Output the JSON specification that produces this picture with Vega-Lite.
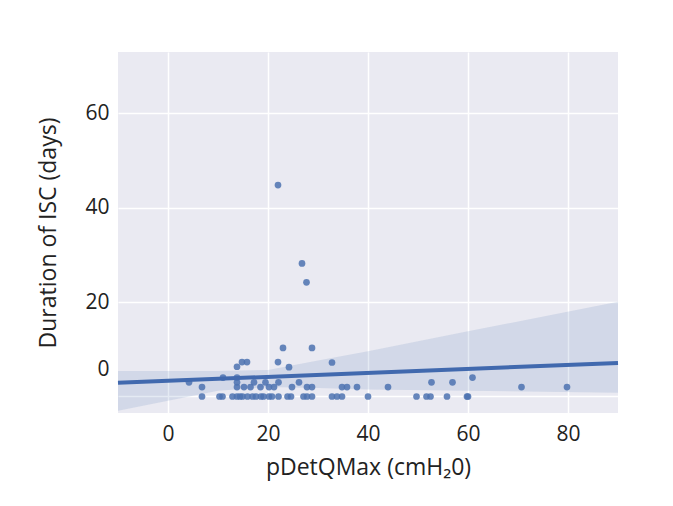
{
  "$schema": "https://vega.github.io/schema/vega-lite/v6.json",
  "width": 500,
  "height": 361,
  "padding": {"left": 37, "top": 52, "right": 50, "bottom": 20},
  "background": "white",
  "config": {
    "view": {"fill": "#EAEAF2", "stroke": null},
    "axis": {
      "domain": false,
      "ticks": false,
      "grid": true,
      "gridColor": "white",
      "gridWidth": 1.5,
      "labelFont": "Open Sans",
      "labelFontSize": 21,
      "labelColor": "#222",
      "titleFont": "Open Sans",
      "titleFontSize": 23,
      "titleFontWeight": "normal",
      "titleColor": "#222"
    }
  },
  "datasets": {
    "points": [
      {"p": 6.8, "d": 0}, {"p": 10.3, "d": 0}, {"p": 10.9, "d": 0}, {"p": 12.9, "d": 0}, {"p": 13.8, "d": 0},
      {"p": 14.4, "d": 0}, {"p": 14.9, "d": 0}, {"p": 15.9, "d": 0}, {"p": 16.9, "d": 0}, {"p": 17.6, "d": 0},
      {"p": 18.6, "d": 0}, {"p": 19.1, "d": 0}, {"p": 20.2, "d": 0}, {"p": 20.8, "d": 0}, {"p": 22.1, "d": 0},
      {"p": 23.9, "d": 0}, {"p": 24.6, "d": 0}, {"p": 27.1, "d": 0}, {"p": 27.8, "d": 0}, {"p": 28.8, "d": 0},
      {"p": 32.8, "d": 0}, {"p": 33.8, "d": 0}, {"p": 34.8, "d": 0}, {"p": 40.0, "d": 0}, {"p": 49.7, "d": 0},
      {"p": 51.7, "d": 0}, {"p": 52.5, "d": 0}, {"p": 55.8, "d": 0}, {"p": 59.8, "d": 0}, {"p": 60.0, "d": 0},
      {"p": 6.8, "d": 2}, {"p": 13.8, "d": 2}, {"p": 15.2, "d": 2}, {"p": 16.5, "d": 2}, {"p": 18.5, "d": 2},
      {"p": 20.2, "d": 2}, {"p": 21.2, "d": 2}, {"p": 24.8, "d": 2}, {"p": 27.8, "d": 2}, {"p": 28.8, "d": 2},
      {"p": 34.8, "d": 2}, {"p": 35.8, "d": 2}, {"p": 37.8, "d": 2}, {"p": 44.0, "d": 2}, {"p": 70.7, "d": 2},
      {"p": 79.8, "d": 2},
      {"p": 4.2, "d": 3}, {"p": 13.8, "d": 3}, {"p": 17.2, "d": 3}, {"p": 19.5, "d": 3}, {"p": 22.1, "d": 3},
      {"p": 26.2, "d": 3}, {"p": 52.7, "d": 3}, {"p": 56.9, "d": 3},
      {"p": 11.0, "d": 4}, {"p": 13.8, "d": 4}, {"p": 60.9, "d": 4},
      {"p": 13.8, "d": 6.3}, {"p": 24.2, "d": 6.2},
      {"p": 14.8, "d": 7.3}, {"p": 15.8, "d": 7.3}, {"p": 22.0, "d": 7.3}, {"p": 32.8, "d": 7.2},
      {"p": 23.0, "d": 10.3}, {"p": 28.8, "d": 10.3},
      {"p": 27.7, "d": 24.2}, {"p": 26.8, "d": 28.2}, {"p": 22.0, "d": 44.8}
    ],
    "fit": [
      {"p": -10, "d": 2.9},
      {"p": 90, "d": 7.1}
    ],
    "band": [
      {"p": -10, "lo": -3.0, "hi": 5.4},
      {"p": 0, "lo": -0.9, "hi": 5.4},
      {"p": 10, "lo": 1.2, "hi": 5.4},
      {"p": 20, "lo": 2.0, "hi": 5.6},
      {"p": 30, "lo": 1.8, "hi": 7.6},
      {"p": 40, "lo": 1.5, "hi": 9.6},
      {"p": 60, "lo": 1.2, "hi": 13.8},
      {"p": 90, "lo": 0.8, "hi": 20.1}
    ]
  },
  "encoding": {
    "x": {
      "type": "quantitative",
      "scale": {"domain": [-10, 90], "nice": false, "zero": false},
      "axis": {"values": [0, 20, 40, 60, 80], "title": "pDetQMax (cmH₂0)", "labelPadding": 10, "titlePadding": 12}
    },
    "y": {
      "type": "quantitative",
      "scale": {"domain": [-3.5, 73], "nice": false, "zero": false},
      "axis": {
        "values": [0, 20, 40, 60],
        "title": "Duration of ISC (days)",
        "labelPadding": 9,
        "titlePadding": 24,
        "labelOffset": {"condition": {"test": "datum.value === 0", "value": -27}, "value": 0}
      }
    }
  },
  "layer": [
    {
      "data": {"name": "band"},
      "mark": {"type": "area", "color": "#4C72B0", "opacity": 0.15},
      "encoding": {
        "x": {"field": "p", "type": "quantitative"},
        "y": {"field": "lo", "type": "quantitative"},
        "y2": {"field": "hi"}
      }
    },
    {
      "data": {"name": "points"},
      "mark": {"type": "circle", "color": "#4C72B0", "opacity": 0.85, "size": 45},
      "encoding": {
        "x": {"field": "p", "type": "quantitative"},
        "y": {"field": "d", "type": "quantitative"}
      }
    },
    {
      "data": {"name": "fit"},
      "mark": {"type": "line", "color": "#4169AE", "strokeWidth": 4},
      "encoding": {
        "x": {"field": "p", "type": "quantitative"},
        "y": {"field": "d", "type": "quantitative"}
      }
    }
  ]
}
